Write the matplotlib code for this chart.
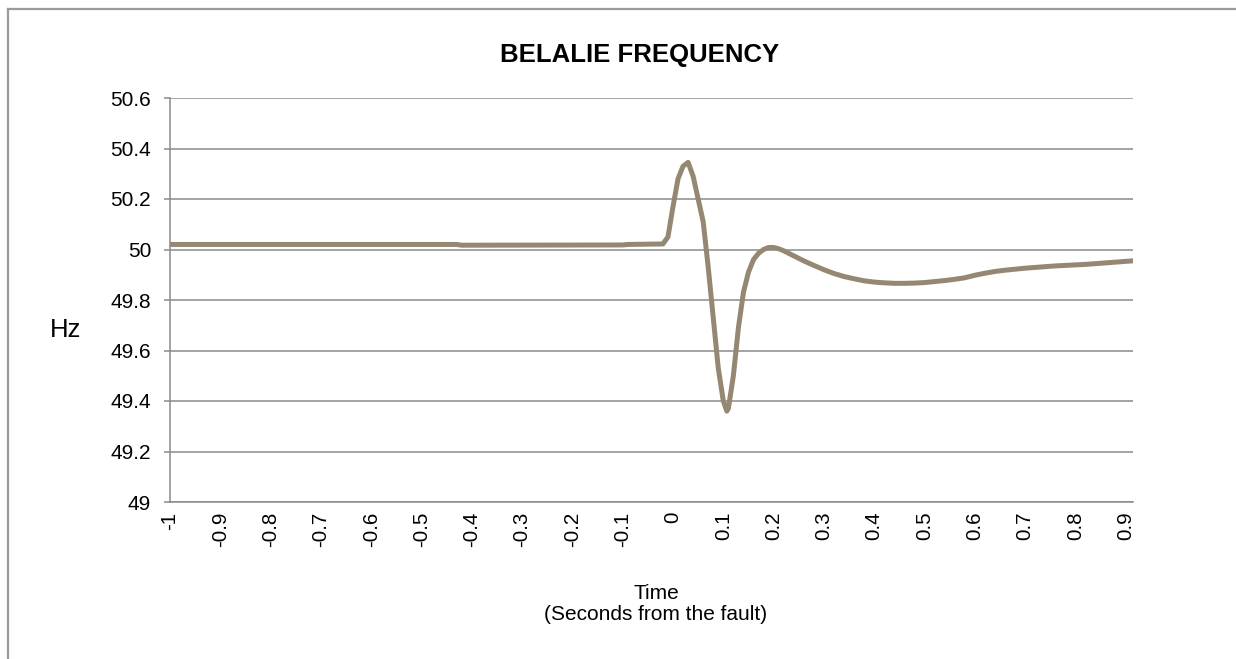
import matplotlib.pyplot as plt
from matplotlib.lines import Line2D

# Data (time in s from fault, frequency in Hz)
time_s = [-1.0, -0.43, -0.42, -0.10, -0.09, -0.02, -0.01, 0.0, 0.01, 0.02,
          0.03, 0.04, 0.05, 0.06, 0.07, 0.08, 0.09, 0.10, 0.107, 0.11,
          0.12, 0.13, 0.14, 0.15, 0.16, 0.17, 0.18, 0.19, 0.20, 0.21,
          0.22, 0.24, 0.26, 0.28, 0.30, 0.32, 0.34, 0.36, 0.38, 0.40,
          0.42, 0.44, 0.46, 0.48, 0.50, 0.52, 0.54, 0.56, 0.58, 0.60,
          0.62, 0.64, 0.66, 0.68, 0.70, 0.72, 0.74, 0.76, 0.78, 0.80,
          0.82, 0.84, 0.86, 0.88, 0.90, 0.914]
freq_hz = [50.02, 50.02, 50.017, 50.018, 50.02, 50.022, 50.05, 50.17, 50.28, 50.33,
           50.345, 50.29, 50.20, 50.11, 49.93, 49.73, 49.53, 49.40, 49.36, 49.37,
           49.50, 49.69, 49.83, 49.91, 49.96, 49.985, 50.0, 50.008, 50.008, 50.003,
           49.995, 49.975, 49.955, 49.937, 49.92, 49.905, 49.893, 49.884, 49.876, 49.871,
           49.868, 49.866, 49.866, 49.867, 49.869, 49.873, 49.877, 49.882, 49.888, 49.898,
           49.906, 49.913, 49.918, 49.922, 49.926, 49.929, 49.932, 49.935, 49.937, 49.939,
           49.941, 49.944, 49.947, 49.95, 49.953, 49.955]

x_ticks = [round(-1 + 0.1 * i, 1) for i in range(20)]
x_labels = ['-1'] + ['%g' % t for t in x_ticks[1:]]
y_ticks = [49, 49.2, 49.4, 49.6, 49.8, 50, 50.2, 50.4, 50.6]
y_labels = ['49', '49.2', '49.4', '49.6', '49.8', '50', '50.2', '50.4', '50.6']

plt.rcParams['font.family'] = ['Liberation Sans', 'DejaVu Sans']

grid_col = '#8a8a8a'
line_col = '#958872'

fig = plt.figure(figsize=(12.36, 6.59), dpi=100)
ax = fig.add_axes([170 / 1236, 1 - 502 / 659, (1133 - 170) / 1236, (502 - 98) / 659])

ax.plot(time_s, freq_hz, color=line_col, linewidth=3.6,
        solid_joinstyle='round', solid_capstyle='round', zorder=3)

ax.set_xlim(-1, 0.9145)
ax.set_ylim(49, 50.6)
ax.set_yticks(y_ticks)
ax.set_yticklabels(y_labels)
ax.set_xticks(x_ticks)
ax.set_xticklabels(x_labels, rotation=90)
ax.set_xticks([-1], minor=True)

ax.grid(axis='y', color=grid_col, linewidth=1.1)
ax.set_axisbelow(True)
for side in ['top', 'right']:
    ax.spines[side].set_visible(False)
for side in ['left', 'bottom']:
    ax.spines[side].set_color(grid_col)
    ax.spines[side].set_linewidth(1.1)

ax.tick_params(axis='y', direction='out', length=4.5, width=1.1, color=grid_col,
               labelsize=15, pad=9)
ax.tick_params(axis='x', which='major', length=0, labelsize=14.8, pad=7)
ax.tick_params(axis='x', which='minor', direction='out', length=4.5, width=1.1,
               color=grid_col)

fig.text(640 / 1236, 1 - 55 / 659, 'BELALIE FREQUENCY', ha='center', va='center',
         fontsize=18.5, fontweight='bold')
fig.text(66 / 1236, 1 - 330 / 659, 'Hz', ha='center', va='center', fontsize=18.5)
fig.text(656 / 1236, 1 - 604 / 659, 'Time\n(Seconds from the fault)', ha='center',
         va='center', multialignment='center', fontsize=15, linespacing=1.1)

# chart frame (only left and top edges are inside the picture)
fig.add_artist(Line2D([7.5 / 1236, 7.5 / 1236], [0, 1 - 9 / 659], color='#9a9a9a',
                      linewidth=1.6, transform=fig.transFigure))
fig.add_artist(Line2D([7.5 / 1236, 1], [1 - 9 / 659, 1 - 9 / 659], color='#9a9a9a',
                      linewidth=1.6, transform=fig.transFigure))

fig.savefig('out.png', dpi=100)
